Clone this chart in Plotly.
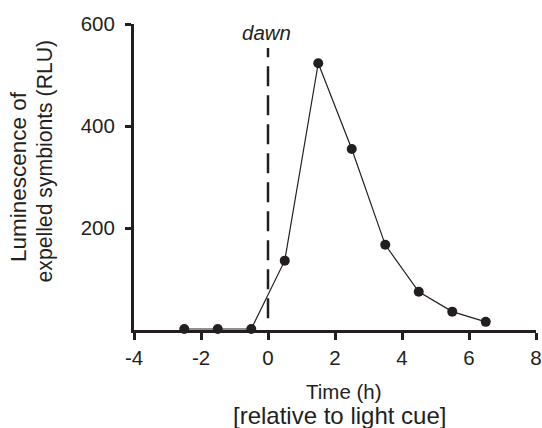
import plotly.graph_objects as go

# Data
time_h = [-2.5, -1.5, -0.5, 0.5, 1.5, 2.5, 3.5, 4.5, 5.5, 6.5]
luminescence = [2, 2, 2, 136, 523, 355, 167, 75, 36, 16]

dawn_time = 0
x_tickvals = [-4, -2, 0, 2, 4, 6, 8]
x_ticktext = ["-4", "-2", "0", "2", "4", "6", "8"]
y_tickvals = [200, 400, 600]
y_ticktext = ["200", "400", "600"]

FONT = "Liberation Sans, Arial, Helvetica, sans-serif"
INK = "#231f20"

L, R, T, B = 134, 6, 24, 98
W, H = 542, 428
PW, PH = W - L - R, H - T - B


def px_x(px):
    return (px - L) / PW


def px_y(py):
    return (H - B - py) / PH


fig = go.Figure()
fig.add_trace(go.Scatter(
    x=time_h, y=luminescence, mode="lines+markers",
    line=dict(color=INK, width=1.2),
    marker=dict(color=INK, size=10),
    cliponaxis=False, showlegend=False,
))

fig.add_shape(type="line", xref="x", yref="y",
              x0=dawn_time, x1=dawn_time, y0=23, y1=553,
              line=dict(color=INK, width=2.5, dash="20px,9px"))

annotations = [
    dict(text="<i>dawn</i>", x=dawn_time, y=584, xref="x", yref="y",
         showarrow=False, xanchor="center", yanchor="middle", xshift=-2,
         font=dict(size=20.5, color=INK, family=FONT)),
    dict(text="Luminescence of", x=px_x(18), y=px_y(176),
         xref="paper", yref="paper", textangle=-90, showarrow=False,
         xanchor="center", yanchor="middle",
         font=dict(size=22.5, color=INK, family=FONT)),
    dict(text="expelled symbionts (RLU)", x=px_x(44), y=px_y(161.5),
         xref="paper", yref="paper", textangle=-90, showarrow=False,
         xanchor="center", yanchor="middle",
         font=dict(size=21.2, color=INK, family=FONT)),
    dict(text="Time (h)", x=px_x(343.5), y=px_y(391),
         xref="paper", yref="paper", showarrow=False,
         xanchor="center", yanchor="middle",
         font=dict(size=20.5, color=INK, family=FONT)),
    dict(text="[relative to light cue]", x=px_x(339), y=px_y(415.5),
         xref="paper", yref="paper", showarrow=False,
         xanchor="center", yanchor="middle",
         font=dict(size=24, color=INK, family=FONT)),
]

fig.update_layout(
    width=W, height=H,
    margin=dict(l=L, r=R, t=T, b=B),
    paper_bgcolor="white", plot_bgcolor="white",
    font=dict(family=FONT, color=INK, size=20.5),
    annotations=annotations,
    xaxis=dict(range=[-4, 8], tickvals=x_tickvals, ticktext=x_ticktext,
               showline=True, linecolor=INK, linewidth=3,
               ticks="outside", ticklen=7, tickwidth=3, tickcolor=INK,
               showgrid=False, zeroline=False, automargin=False,
               ticklabeloverflow="allow",
               tickfont=dict(size=20.5, color=INK, family=FONT)),
    yaxis=dict(range=[0, 600], tickvals=y_tickvals, ticktext=y_ticktext,
               showline=True, linecolor=INK, linewidth=3,
               ticks="outside", ticklen=6, tickwidth=3, tickcolor=INK,
               showgrid=False, zeroline=False, automargin=False,
               ticklabelstandoff=6, ticklabeloverflow="allow",
               tickfont=dict(size=20.5, color=INK, family=FONT)),
)

fig.write_html(
    "out.html",
    config={"displayModeBar": False},
    post_script="document.body.style.margin='0';document.body.style.overflow='hidden';",
)
